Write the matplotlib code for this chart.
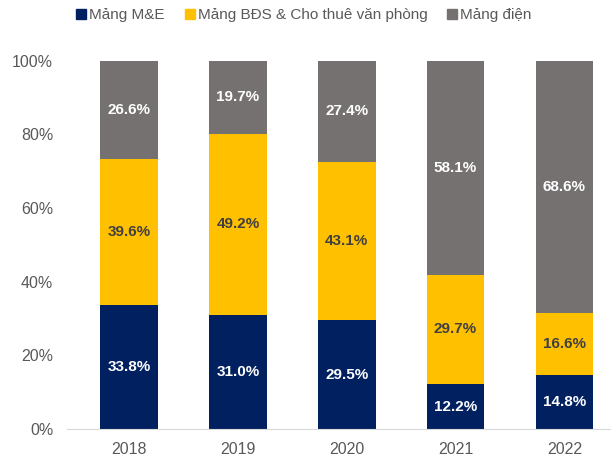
import matplotlib.pyplot as plt
from matplotlib.patches import Patch

plt.rcParams['font.family'] = ['Liberation Sans', 'DejaVu Sans']

years = ['2018', '2019', '2020', '2021', '2022']
me = [33.8, 31.0, 29.5, 12.2, 14.8]
bds = [39.6, 49.2, 43.1, 29.7, 16.6]
dien = [26.6, 19.7, 27.4, 58.1, 68.6]

series = [
    ('Mảng M&E', me, '#002060', 'white'),
    ('Mảng BĐS & Cho thuê văn phòng', bds, '#FFC000', '#404040'),
    ('Mảng điện', dien, '#767171', 'white'),
]

fig = plt.figure(figsize=(6.15, 4.57), dpi=100)
ax = fig.add_axes([0.109, 0.061, 0.883, 0.806])

x = list(range(len(years)))
bottom = [0.0] * len(years)
handles = []
for name, vals, color, tcolor in series:
    ax.bar(x, vals, 0.53, bottom=bottom, color=color)
    for i, v in enumerate(vals):
        ax.text(i, bottom[i] + v / 2, f'{v:.1f}%', ha='center', va='center',
                color=tcolor, fontsize=11, fontweight='bold')
    bottom = [b + v for b, v in zip(bottom, vals)]
    handles.append(Patch(color=color, label=name))

ax.set_xlim(-0.57, 4.42)
ax.set_ylim(0, 100)
ax.set_yticks(range(0, 101, 20))
ax.set_yticklabels([f'{t}%' for t in range(0, 101, 20)])
ax.set_xticks(x)
ax.set_xticklabels(years)
ax.tick_params(length=0, labelsize=11.5, labelcolor='#595959')
ax.tick_params(axis='y', pad=10)
ax.tick_params(axis='x', pad=9)
for s in ['top', 'right', 'left']:
    ax.spines[s].set_visible(False)
ax.spines['bottom'].set_color('#D9D9D9')

fig.legend(handles=handles, loc='upper left', bbox_to_anchor=(0.102, 1.012), ncol=3,
           frameon=False, fontsize=11, handlelength=0.65, handleheight=0.65,
           handletextpad=0.2, columnspacing=1.3, labelcolor='#595959')

fig.savefig('out.png', dpi=100)
